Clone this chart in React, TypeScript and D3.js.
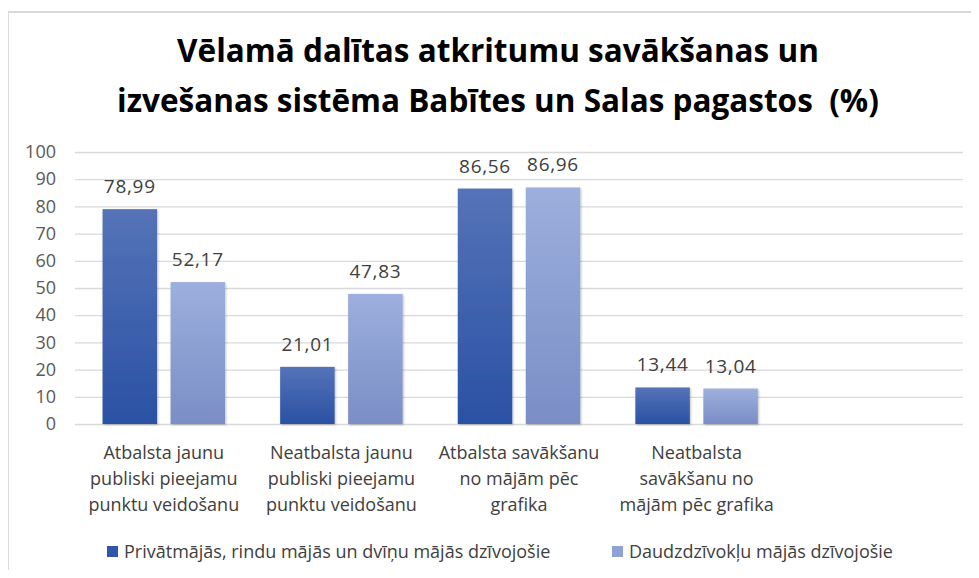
import React, { useRef, useEffect } from 'react';
import * as d3 from 'd3';

// categories (the fifth slot is left empty in the original chart)
const categories = [
  "Atbalsta jaunu|publiski pieejamu|punktu veidošanu",
  "Neatbalsta jaunu|publiski pieejamu|punktu veidošanu",
  "Atbalsta savākšanu|no mājām pēc|grafika",
  "Neatbalsta|savākšanu no|mājām pēc grafika",
  "",
];
const seriesNames = [
  "Privātmājās, rindu mājās un dvīņu mājās dzīvojošie",
  "Daudzdzīvokļu mājās dzīvojošie",
];
const privateValues = [78.99, 21.01, 86.56, 13.44];
const flatValues = [52.17, 47.83, 86.96, 13.04];
const yTicks = [0, 10, 20, 30, 40, 50, 60, 70, 80, 90, 100];
const titleLines = [
  "Vēlamā dalītas atkritumu savākšanas un",
  "izvešanas sistēma Babītes un Salas pagastos  (%)",
];

export default function App() {
  const svgRef = useRef<SVGSVGElement>(null);

  useEffect(() => {
    const width = 979;
    const height = 578;
    const marginTop = 152;
    const marginRight = 16;
    const marginBottom = 154;
    const marginLeft = 75;
    const font = "'Open Sans', sans-serif";

    const svg = d3.select(svgRef.current)
      .attr("width", width)
      .attr("height", height)
      .attr("viewBox", [0, 0, width, height].join(" "))
      .style("display", "block");
    svg.selectAll("*").remove();

    const defs = svg.append("defs");
    const grad = (id: string, top: string, bottom: string) => {
      const g = defs.append("linearGradient").attr("id", id)
        .attr("x1", 0).attr("y1", 0).attr("x2", 0).attr("y2", 1);
      g.append("stop").attr("offset", "0%").attr("stop-color", top);
      g.append("stop").attr("offset", "100%").attr("stop-color", bottom);
    };
    grad("gDark", "#5573b8", "#2a51a4");
    grad("gLight", "#9cafdd", "#7a8ec6");
    defs.append("filter").attr("id", "shadow")
      .attr("x", "-20%").attr("y", "-20%").attr("width", "140%").attr("height", "140%")
      .append("feDropShadow")
      .attr("dx", 1).attr("dy", 1).attr("stdDeviation", 1.2)
      .attr("flood-color", "#000").attr("flood-opacity", 0.25);

    // chart area border
    svg.append("rect")
      .attr("x", 8).attr("y", 12)
      .attr("width", width + 10).attr("height", height + 10)
      .attr("fill", "white")
      .attr("stroke", "#d9d9d9").attr("stroke-width", 2);

    // title
    svg.append("g")
      .selectAll("text")
      .data(titleLines)
      .join("text")
        .attr("x", 498)
        .attr("y", (d, i) => 62 + i * 50)
        .attr("text-anchor", "middle")
        .attr("font-family", font)
        .attr("font-weight", "bold")
        .attr("font-size", 31.5)
        .attr("fill", "#000")
        .style("white-space", "pre")
        .text(d => d);

    const x0 = d3.scaleBand()
      .domain(categories.map((d, i) => String(i)))
      .range([marginLeft, width - marginRight]);

    const y = d3.scaleLinear()
      .domain([0, 100])
      .range([height - marginBottom, marginTop]);

    // gridlines + y labels
    const yAxis = svg.append("g")
      .attr("transform", `translate(${marginLeft},0)`)
      .call(d3.axisLeft(y).tickValues(yTicks).tickSize(-(width - marginRight - marginLeft)).tickPadding(19))
      .call(g => g.select(".domain").remove());
    yAxis.selectAll(".tick line").attr("stroke", "#d9d9d9").attr("stroke-width", 1.3);
    yAxis.selectAll(".tick text")
      .attr("font-family", font).attr("font-size", 18).attr("fill", "#595959");

    const barW = 54.5;
    const gap = 13.5;
    const series = [
      { values: privateValues, fill: "url(#gDark)", offset: -(gap / 2 + barW) },
      { values: flatValues, fill: "url(#gLight)", offset: gap / 2 },
    ];

    series.forEach(s => {
      const g = svg.append("g");
      g.selectAll("rect")
        .data(s.values)
        .join("rect")
          .attr("x", (d, i) => x0(String(i))! + x0.bandwidth() / 2 + s.offset)
          .attr("y", d => y(d))
          .attr("width", barW)
          .attr("height", d => y(0) - y(d))
          .attr("fill", s.fill)
          .attr("filter", "url(#shadow)");
      g.selectAll("text")
        .data(s.values)
        .join("text")
          .attr("x", (d, i) => x0(String(i))! + x0.bandwidth() / 2 + s.offset + barW / 2)
          .attr("y", d => y(d) - 16)
          .attr("text-anchor", "middle")
          .attr("font-family", font)
          .attr("font-size", 19)
          .attr("letter-spacing", 0.7)
          .attr("fill", "#404040")
          .text(d => d.toFixed(2).replace(".", ","));
    });

    // category labels
    const xl = svg.append("g");
    categories.forEach((c, i) => {
      if (!c) return;
      const t = xl.append("text")
        .attr("text-anchor", "middle")
        .attr("font-family", font)
        .attr("font-size", 18)
        .attr("fill", "#404040");
      c.split("|").forEach((line, j) => {
        t.append("tspan")
          .attr("x", x0(String(i))! + x0.bandwidth() / 2)
          .attr("y", 459 + j * 26)
          .text(line);
      });
    });

    // legend
    const legendX = [107, 612];
    const legendFill = ["#2f56a8", "#8ea2d6"];
    seriesNames.forEach((name, i) => {
      svg.append("rect")
        .attr("x", legendX[i]).attr("y", 546)
        .attr("width", 11).attr("height", 11)
        .attr("fill", legendFill[i]);
      svg.append("text")
        .attr("x", legendX[i] + 17).attr("y", 558)
        .attr("font-family", font)
        .attr("font-size", 18)
        .attr("fill", "#404040")
        .text(name);
    });
  }, []);

  return (
    <div style={{ margin: -8 }}>
      <svg ref={svgRef}></svg>
    </div>
  );
}
